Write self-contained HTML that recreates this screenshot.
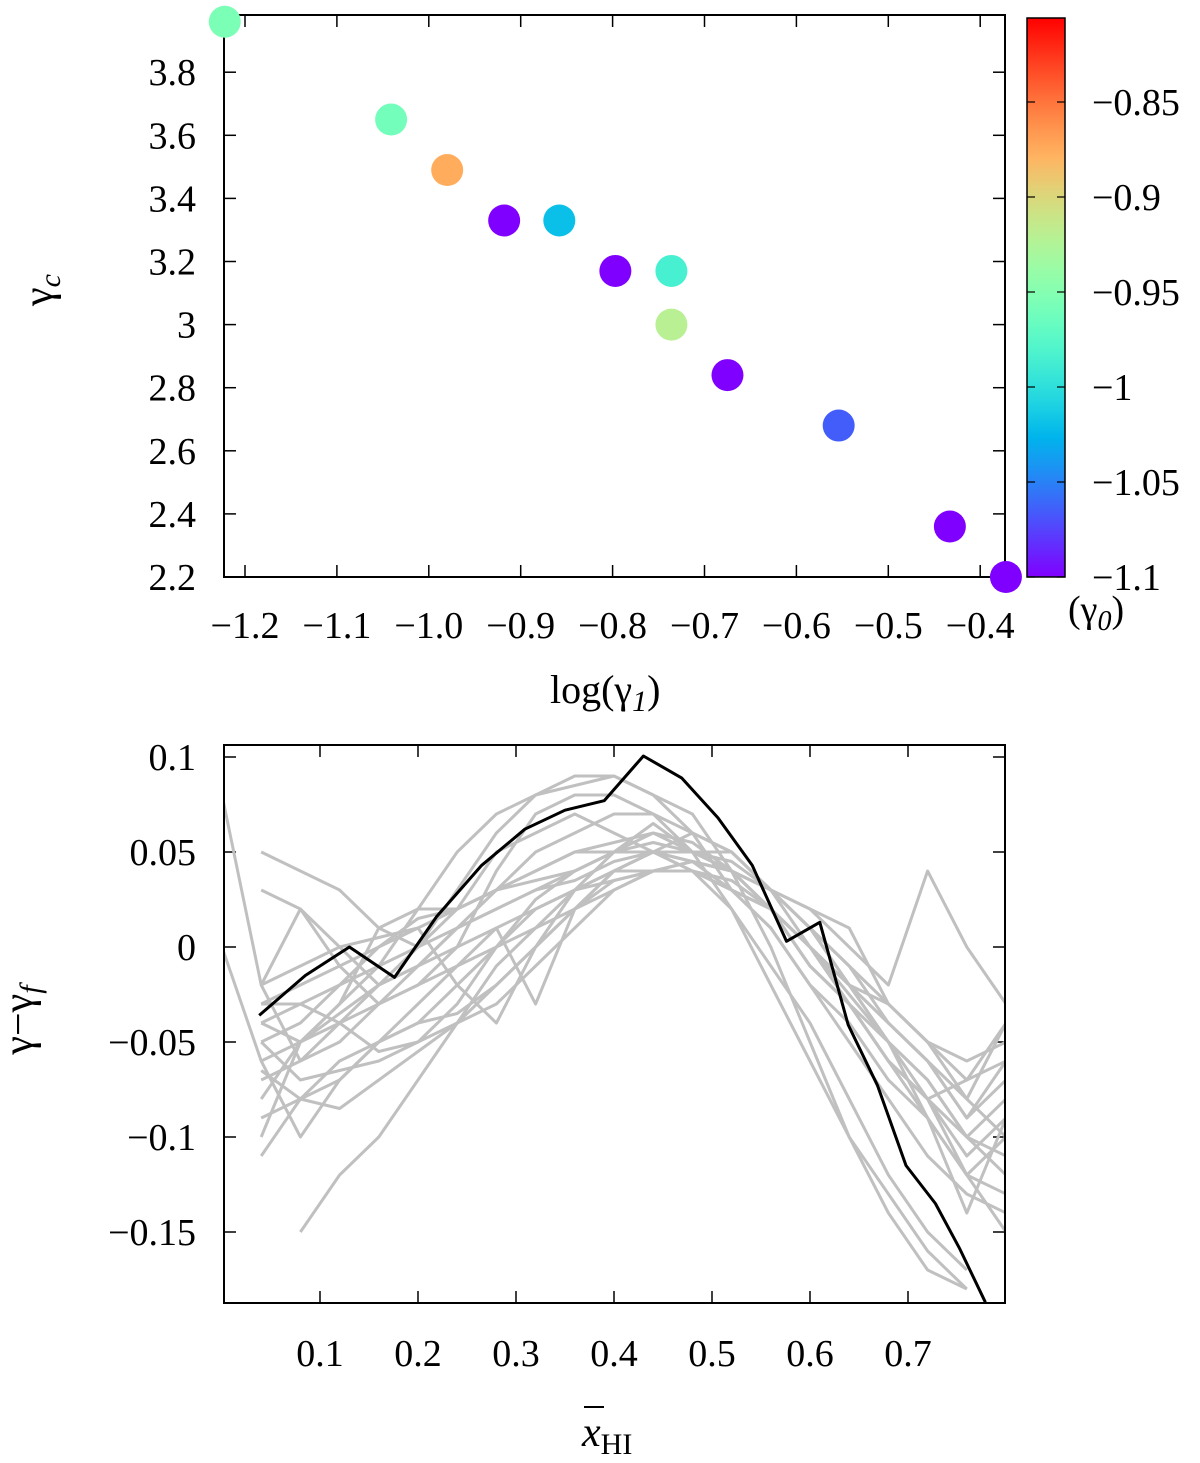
<!DOCTYPE html>
<html><head><meta charset="utf-8">
<style>
html,body{margin:0;padding:0;background:#fff;}
svg{display:block;font-family:"Liberation Serif",serif;}
</style></head>
<body>
<svg id="chart" width="1200" height="1463" viewBox="0 0 1200 1463" xmlns="http://www.w3.org/2000/svg">
<defs>
<linearGradient id="rb" x1="0" y1="1" x2="0" y2="0"></linearGradient>
<clipPath id="clipB"><rect x="224" y="745" width="781" height="558"/></clipPath>
</defs>
<g id="top"></g>
<g id="bot"></g>
</svg>
<script>
// ---- top panel data ----
const scatterX = [-1.222,-1.041,-0.980,-0.918,-0.858,-0.797,-0.736,-0.736,-0.675,-0.554,-0.433,-0.372];
const scatterY = [3.96,3.65,3.49,3.33,3.33,3.17,3.17,3.00,2.84,2.68,2.36,2.20];
const scatterC = [-0.955,-0.96,-0.875,-1.1,-1.02,-1.1,-0.985,-0.92,-1.1,-1.065,-1.1,-1.1];
const topXTicks = [-1.2,-1.1,-1.0,-0.9,-0.8,-0.7,-0.6,-0.5,-0.4];
const topXLabels = ["\u22121.2","\u22121.1","\u22121.0","\u22120.9","\u22120.8","\u22120.7","\u22120.6","\u22120.5","\u22120.4"];
const topYTicks = [2.2,2.4,2.6,2.8,3.0,3.2,3.4,3.6,3.8];
const topYLabels = ["2.2","2.4","2.6","2.8","3","3.2","3.4","3.6","3.8"];
const cbTicks = [-1.1,-1.05,-1.0,-0.95,-0.9,-0.85];
const cbLabels = ["\u22121.1","\u22121.05","\u22121","\u22120.95","\u22120.9","\u22120.85"];
// ---- bottom panel data ----
const blackX = [0.038,0.085,0.130,0.176,0.219,0.265,0.309,0.350,0.390,0.430,0.469,0.506,0.541,0.576,0.610,0.639,0.669,0.698,0.728,0.753,0.779];
const blackY = [-0.036,-0.015,0,-0.016,0.016,0.043,0.062,0.072,0.077,0.1005,0.089,0.068,0.043,0.003,0.013,-0.041,-0.073,-0.115,-0.135,-0.159,-0.187];
const grayX = [0.0,0.04,0.08,0.12,0.16,0.2,0.24,0.28,0.32,0.36,0.4,0.44,0.48,0.52,0.56,0.6,0.64,0.68,0.72,0.76,0.8];
const gray1 = [0.08,-0.02,-0.06,-0.05,-0.03,-0.01,0.01,0.03,0.05,0.06,0.07,0.07,0.06,0.05,0.03,0.0,-0.03,-0.06,-0.09,-0.12,-0.15];
const gray2 = [0.0,-0.06,-0.10,-0.07,-0.05,-0.03,-0.01,0.01,0.02,0.03,0.04,0.04,0.04,0.03,0.01,-0.02,-0.04,-0.07,-0.09,-0.12,-0.10];
const gray3 = [null,0.05,0.04,0.03,0.01,0.0,0.01,0.02,0.03,0.04,0.05,0.06,0.05,0.04,0.02,-0.01,-0.03,-0.06,-0.08,-0.07,-0.04];
const gray4 = [null,-0.03,-0.02,-0.01,0.0,0.01,0.02,0.03,0.04,0.05,0.05,0.05,0.04,0.03,0.02,0.0,-0.02,-0.04,-0.06,-0.09,-0.07];
const gray5 = [null,null,-0.15,-0.12,-0.10,-0.07,-0.04,-0.01,0.01,0.03,0.04,0.05,0.04,0.02,-0.02,-0.06,-0.10,-0.13,-0.16,-0.18,null];
const gray6 = [null,-0.05,-0.04,-0.02,-0.01,0.02,0.05,0.07,0.08,0.09,0.09,0.08,0.07,0.04,0.0,-0.05,-0.10,-0.14,-0.17,-0.18,null];
const gray7 = [null,-0.02,0.02,0.0,-0.02,0.0,0.03,0.06,0.08,0.085,0.09,0.08,0.06,0.03,0.01,-0.02,-0.05,-0.08,-0.11,-0.13,-0.14];
const gray8 = [null,-0.09,-0.08,-0.07,-0.05,-0.04,-0.02,0.0,0.02,0.03,0.035,0.04,0.04,0.03,0.02,0.0,-0.02,-0.03,-0.05,-0.07,-0.06];
const gray9 = [null,-0.07,-0.06,-0.04,-0.02,-0.01,0.01,0.02,0.03,0.035,0.045,0.05,0.05,0.045,0.03,0.01,-0.01,-0.03,-0.05,-0.08,-0.04];
const gray10 = [null,-0.04,-0.03,-0.02,0.0,0.015,0.02,0.03,0.04,0.05,0.055,0.06,0.055,0.04,0.03,0.02,0.0,-0.02,0.04,0.0,-0.03];
const gray11 = [null,0.03,0.02,-0.01,-0.03,-0.02,0.0,0.04,0.07,0.08,0.08,0.07,0.05,0.02,-0.01,-0.04,-0.08,-0.12,-0.15,-0.17,null];
const gray12 = [null,-0.06,-0.05,-0.04,-0.03,-0.02,-0.01,0.0,0.01,0.02,0.03,0.04,0.045,0.04,0.03,0.01,-0.01,-0.04,-0.06,-0.09,-0.06];
const gray13 = [null,-0.08,-0.05,-0.035,-0.02,-0.01,0.0,0.01,-0.03,0.02,0.04,0.05,0.045,0.03,0.02,-0.01,-0.03,-0.05,-0.07,-0.1,-0.12];
const gray14 = [null,-0.04,-0.05,-0.03,0.01,0.02,0.02,0.03,0.035,0.04,0.05,0.065,0.05,0.04,0.02,0.0,-0.03,-0.06,-0.08,-0.1,-0.08];
const gray15 = [null,-0.02,-0.01,0.0,0.005,0.01,-0.02,-0.04,0.0,0.03,0.05,0.05,0.05,0.05,0.03,0.01,-0.02,-0.05,-0.09,-0.14,-0.09];
const gray16 = [null,-0.1,-0.05,-0.03,-0.01,0.0,0.02,0.05,0.06,0.07,0.06,0.05,0.06,0.05,0.03,0.02,0.01,-0.03,-0.05,-0.06,-0.05];
const gray17 = [null,-0.05,-0.07,-0.065,-0.06,-0.05,-0.04,-0.02,0.0,0.02,0.04,0.05,0.045,0.04,0.02,-0.01,-0.03,-0.06,-0.08,-0.11,-0.09];
const gray18 = [null,-0.065,-0.08,-0.085,-0.07,-0.055,-0.04,-0.03,-0.01,0.01,0.03,0.04,0.045,0.04,0.02,0.0,-0.02,-0.05,-0.07,-0.1,-0.11];
const gray19 = [null,-0.11,-0.08,-0.06,-0.05,-0.04,-0.035,-0.02,0.0,0.02,0.035,0.04,0.04,0.035,0.02,0.0,-0.025,-0.05,-0.08,-0.12,-0.13];
const gray20 = [null,-0.03,-0.03,-0.04,-0.055,-0.05,-0.03,0.0,0.025,0.04,0.05,0.055,0.05,0.04,0.03,0.01,-0.02,-0.04,-0.06,-0.08,-0.1];
const botXTicks = [0.1,0.2,0.3,0.4,0.5,0.6,0.7];
const botXLabels = ["0.1","0.2","0.3","0.4","0.5","0.6","0.7"];
const botYTicks = [-0.15,-0.1,-0.05,0,0.05,0.1];
const botYLabels = ["\u22120.15","\u22120.1","\u22120.05","0","0.05","0.1"];

const NS="http://www.w3.org/2000/svg";
function mk(tag,attrs,parent,text){const e=document.createElementNS(NS,tag);for(const k in attrs)e.setAttribute(k,attrs[k]);if(text!==undefined)e.textContent=text;parent.appendChild(e);return e;}
function rbT(t){t=Math.max(0,Math.min(1,t));const r=Math.min(1,Math.abs(2*t-0.5)),g=Math.sin(Math.PI*t),b=Math.cos(Math.PI*t/2);return 'rgb('+[r,g,b].map(c=>Math.round(c*255)).join(',')+')';}
const cMin=-1.1,cMax=-0.805;
function rainbow(v){return rbT((v-cMin)/(cMax-cMin));}
const grad=document.getElementById('rb');
for(let i=0;i<=20;i++){mk('stop',{offset:i/20,'stop-color':rbT(i/20)},grad);}

// ---- top axes ----
const tL=224,tR=1005,tT=15,tB=577;
const tx=v=>245+(v+1.2)/0.1*91.9;
const ty=v=>577-(v-2.2)/0.2*63.1;
const cbT=18,cbB=577,cbL=1027,cbR=1065;
const cy=v=>577-(v+1.1)/0.05*95;
const gTop=document.getElementById('top');
topXTicks.forEach((v,i)=>{
  const x=tx(v);
  const t1=mk('line',{x1:x,y1:tB,x2:x,y2:tB-12,stroke:'#000','stroke-width':1.5},gTop);
  
  
  mk('line',{x1:x,y1:tT,x2:x,y2:tT+12,stroke:'#000','stroke-width':1.5},gTop);
  const l=mk('text',{x:x,y:638,'font-size':38,'text-anchor':'middle'},gTop,topXLabels[i]);
  
  
});
topYTicks.forEach((v,i)=>{
  const y=ty(v);
  const t1=mk('line',{x1:tL,y1:y,x2:tL+12,y2:y,stroke:'#000','stroke-width':1.5},gTop);
  
  
  mk('line',{x1:tR,y1:y,x2:tR-12,y2:y,stroke:'#000','stroke-width':1.5},gTop);
  const l=mk('text',{x:196,y:y+13,'font-size':38,'text-anchor':'end'},gTop,topYLabels[i]);
  
  
});
const f1=mk('rect',{x:tL,y:tT,width:tR-tL,height:tB-tT,fill:'none',stroke:'#000','stroke-width':2},gTop);


scatterX.forEach((v,i)=>{
  const c=mk('circle',{cx:tx(v),cy:ty(scatterY[i]),r:16,fill:rainbow(scatterC[i])},gTop);
  
  
});
const cb=mk('rect',{x:cbL,y:cbT,width:cbR-cbL,height:cbB-cbT,fill:'url(#rb)',stroke:'#000','stroke-width':1.5},gTop);


cbTicks.forEach((v,i)=>{
  const y=cy(v);
  mk('line',{x1:cbL,y1:y,x2:cbL+8,y2:y,stroke:'#000','stroke-width':1.2},gTop);
  mk('line',{x1:cbR,y1:y,x2:cbR-8,y2:y,stroke:'#000','stroke-width':1.2},gTop);
  const l=mk('text',{x:1092,y:y+13,'font-size':38},gTop,cbLabels[i]);
  
  
});
const cbt=mk('text',{x:1068,y:622,'font-size':38},gTop);


cbt.innerHTML='(γ<tspan font-style="italic" font-size="28" dy="8">0</tspan><tspan dy="-8">)</tspan>';
const xt=mk('text',{x:550,y:703,'font-size':40},gTop);


xt.innerHTML='log(γ<tspan font-style="italic" font-size="30" dy="8">1</tspan><tspan dy="-8">)</tspan>';
const yt=mk('text',{x:0,y:0,'font-size':42,transform:'translate(52,290) rotate(-90)','text-anchor':'middle'},gTop);


yt.innerHTML='γ<tspan font-style="italic" font-size="30" dy="8">c</tspan>';

// ---- bottom axes ----
const bL=224,bR=1005,bT=745,bB=1303;
const bx=v=>320+(v-0.1)*980;
const by=v=>947-v*1900;
const gBot=document.getElementById('bot');
botXTicks.forEach((v,i)=>{
  const x=bx(v);
  const t1=mk('line',{x1:x,y1:bB,x2:x,y2:bB-12,stroke:'#000','stroke-width':1.5},gBot);
  
  
  mk('line',{x1:x,y1:bT,x2:x,y2:bT+12,stroke:'#000','stroke-width':1.5},gBot);
  const l=mk('text',{x:x,y:1366,'font-size':38,'text-anchor':'middle'},gBot,botXLabels[i]);
  
  
});
botYTicks.forEach((v,i)=>{
  const y=by(v);
  const t1=mk('line',{x1:bL,y1:y,x2:bL+12,y2:y,stroke:'#000','stroke-width':1.5},gBot);
  
  
  mk('line',{x1:bR,y1:y,x2:bR-12,y2:y,stroke:'#000','stroke-width':1.5},gBot);
  const l=mk('text',{x:196,y:y+13,'font-size':38,'text-anchor':'end'},gBot,botYLabels[i]);
  
  
});
const clipG=mk('g',{'clip-path':'url(#clipB)'},gBot);
const grays=[gray1,gray2,gray3,gray4,gray5,gray6,gray7,gray8,gray9,gray10,gray11,gray12,gray13,gray14,gray15,gray16,gray17,gray18,gray19,gray20];
grays.forEach(arr=>{
  const pts=[];arr.forEach((v,i)=>{if(v!==null)pts.push(bx(grayX[i]).toFixed(1)+','+by(v).toFixed(1));});
  const p=mk('polyline',{points:pts.join(' '),fill:'none',stroke:'#c0c0c0','stroke-width':3,'stroke-linejoin':'round'},clipG);
  
  
});
const bp=mk('polyline',{points:blackX.map((v,i)=>bx(v).toFixed(1)+','+by(blackY[i]).toFixed(1)).join(' '),fill:'none',stroke:'#000','stroke-width':3,'stroke-linejoin':'round'},clipG);


const f2=mk('rect',{x:bL,y:bT,width:bR-bL,height:bB-bT,fill:'none',stroke:'#000','stroke-width':2},gBot);


const bxt=mk('text',{x:582,y:1446,'font-size':42,'font-style':'italic'},gBot);


bxt.innerHTML='x<tspan font-style="normal" font-size="30" dy="8">HI</tspan>';
const bar=mk('line',{x1:584,y1:1407,x2:604,y2:1407,stroke:'#000','stroke-width':2},gBot);


const byt=mk('text',{x:0,y:0,'font-size':42,transform:'translate(32,1020) rotate(-90)','text-anchor':'middle'},gBot);


byt.innerHTML='γ−γ<tspan font-style="italic" font-size="30" dy="8">f</tspan>';
</script>
</body></html>
